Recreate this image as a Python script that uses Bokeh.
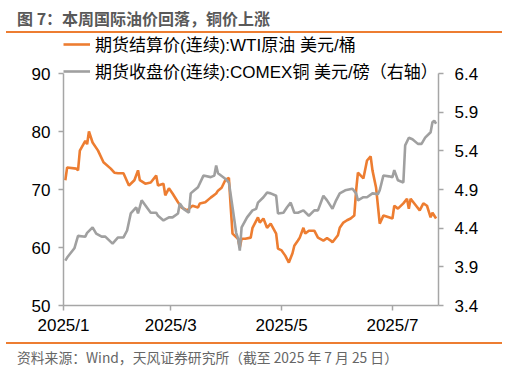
import pandas as pd
from bokeh.plotting import figure
from bokeh.models import (Range1d, LinearAxis, FixedTicker, CustomJSTickFormatter,
                          Legend, LegendItem, Div, PrintfTickFormatter)
from bokeh.layouts import column
from bokeh.embed import file_html
from bokeh.resources import INLINE

title_text = "图 7：本周国际油价回落，铜价上涨"
source_text = "资料来源：Wind，天风证券研究所（截至 2025 年 7 月 25 日）"
wti_label = "期货结算价(连续):WTI原油 美元/桶"
cu_label = "期货收盘价(连续):COMEX铜 美元/磅（右轴）"

wti_dates = ["2025-01-02", "2025-01-03", "2025-01-08", "2025-01-09", "2025-01-10", "2025-01-13",
             "2025-01-14", "2025-01-15", "2025-01-17", "2025-01-20", "2025-01-23", "2025-01-27",
             "2025-01-29", "2025-01-31", "2025-02-03", "2025-02-06", "2025-02-09", "2025-02-11",
             "2025-02-12", "2025-02-15", "2025-02-18", "2025-02-21", "2025-02-22", "2025-02-25",
             "2025-02-26", "2025-02-28", "2025-03-02", "2025-03-05", "2025-03-07", "2025-03-10",
             "2025-03-13", "2025-03-16", "2025-03-17", "2025-03-20", "2025-03-23", "2025-03-26",
             "2025-03-27", "2025-03-29", "2025-03-31", "2025-04-02", "2025-04-03", "2025-04-04",
             "2025-04-07", "2025-04-08", "2025-04-09", "2025-04-11", "2025-04-14", "2025-04-15",
             "2025-04-18", "2025-04-19", "2025-04-21", "2025-04-23", "2025-04-25", "2025-04-28",
             "2025-04-29", "2025-05-01", "2025-05-03", "2025-05-05", "2025-05-07", "2025-05-08",
             "2025-05-10", "2025-05-11", "2025-05-13", "2025-05-14", "2025-05-16", "2025-05-19",
             "2025-05-21", "2025-05-24", "2025-05-26", "2025-05-28", "2025-05-29", "2025-06-01",
             "2025-06-02", "2025-06-04", "2025-06-06", "2025-06-08", "2025-06-10", "2025-06-11",
             "2025-06-12", "2025-06-15", "2025-06-17", "2025-06-19", "2025-06-20", "2025-06-22",
             "2025-06-24", "2025-06-26", "2025-06-29", "2025-07-01", "2025-07-02", "2025-07-04",
             "2025-07-07", "2025-07-09", "2025-07-10", "2025-07-11", "2025-07-14", "2025-07-16",
             "2025-07-18", "2025-07-20", "2025-07-22", "2025-07-23", "2025-07-25"]
wti_values = [71.6, 73.8, 73.6, 73.3, 76.7, 78.4,
              77.8, 80.0, 78.1, 76.7, 74.7, 73.6,
              72.9, 72.8, 72.8, 70.7, 71.6, 73.3,
              71.6, 71.0, 71.2, 72.4, 70.7, 71.0,
              69.0, 70.2, 69.3, 67.8, 66.9, 66.4,
              67.2, 66.9, 67.6, 67.8, 68.6, 69.3,
              69.8, 70.3, 71.6, 72.0, 67.0, 62.4,
              61.5, 60.0, 61.5, 61.5, 61.7, 63.4,
              65.2, 64.3, 65.0, 63.4, 64.1, 62.4,
              59.8, 59.5, 58.6, 57.4, 59.0, 60.3,
              61.2, 61.7, 63.4, 62.4, 62.9, 62.9,
              61.7, 61.2, 61.6, 61.2, 60.9, 62.1,
              63.4, 64.3, 64.7, 65.0, 65.5, 69.8,
              72.9, 71.9, 75.0, 75.7, 73.3, 70.3,
              64.1, 65.5, 65.2, 65.0, 67.2, 66.7,
              67.6, 68.4, 66.7, 68.4, 67.2, 66.4,
              67.6, 67.2, 65.2, 66.0, 65.0]

cu_dates = ["2025-01-02", "2025-01-03", "2025-01-07", "2025-01-09", "2025-01-13", "2025-01-14",
            "2025-01-17", "2025-01-19", "2025-01-22", "2025-01-24", "2025-01-28", "2025-01-31",
            "2025-02-03", "2025-02-05", "2025-02-07", "2025-02-10", "2025-02-11", "2025-02-13",
            "2025-02-18", "2025-02-21", "2025-02-22", "2025-02-25", "2025-02-28", "2025-03-02",
            "2025-03-05", "2025-03-06", "2025-03-08", "2025-03-11", "2025-03-12", "2025-03-14",
            "2025-03-16", "2025-03-19", "2025-03-23", "2025-03-25", "2025-03-26", "2025-03-27",
            "2025-03-31", "2025-04-02", "2025-04-04", "2025-04-06", "2025-04-07", "2025-04-08",
            "2025-04-09", "2025-04-12", "2025-04-15", "2025-04-17", "2025-04-18", "2025-04-21",
            "2025-04-23", "2025-04-25", "2025-04-28", "2025-04-29", "2025-05-02", "2025-05-04",
            "2025-05-06", "2025-05-08", "2025-05-10", "2025-05-13", "2025-05-16", "2025-05-19",
            "2025-05-21", "2025-05-24", "2025-05-26", "2025-05-29", "2025-05-31", "2025-06-02",
            "2025-06-05", "2025-06-09", "2025-06-11", "2025-06-12", "2025-06-15", "2025-06-17",
            "2025-06-20", "2025-06-23", "2025-06-24", "2025-06-26", "2025-06-29", "2025-07-01",
            "2025-07-02", "2025-07-04", "2025-07-07", "2025-07-08", "2025-07-10", "2025-07-12",
            "2025-07-15", "2025-07-17", "2025-07-19", "2025-07-22", "2025-07-23", "2025-07-24",
            "2025-07-25"]
cu_values = [3.98, 4.02, 4.14, 4.30, 4.29, 4.34,
             4.41, 4.33, 4.29, 4.29, 4.20, 4.28,
             4.28, 4.37, 4.59, 4.67, 4.59, 4.76,
             4.60, 4.60, 4.56, 4.50, 4.54, 4.54,
             4.59, 4.72, 4.65, 4.60, 4.85, 4.89,
             4.93, 5.08, 5.06, 5.08, 5.21, 5.11,
             5.04, 4.99, 4.67, 4.34, 4.27, 4.11,
             4.41, 4.54, 4.63, 4.65, 4.73, 4.80,
             4.86, 4.85, 4.82, 4.59, 4.60, 4.67,
             4.73, 4.60, 4.60, 4.63, 4.56, 4.63,
             4.63, 4.82, 4.76, 4.65, 4.76, 4.85,
             4.89, 4.91, 4.85, 4.76, 4.80, 4.80,
             4.85, 4.84, 4.89, 5.08, 5.07, 5.06,
             5.15, 5.02, 4.99, 5.47, 5.57, 5.55,
             5.49, 5.49, 5.57, 5.64, 5.77, 5.79,
             5.75]

left_ticks = [50, 60, 70, 80, 90]
right_ticks = [3.4, 3.9, 4.4, 4.9, 5.4, 5.9, 6.4]
x_tick_dates = ["2025-01-01", "2025-03-01", "2025-05-01", "2025-07-01"]
x_start, x_end = "2025-01-01", "2025-07-26 08:00"


def ms(s):
    return pd.Timestamp(s).value // 10**6


ORANGE = "#ED7D31"
GRAY = "#A0A0A0"
AXIS = "#A6A6A6"
LATIN_FONT = "Liberation Sans"
CJK_FONT = "Noto Sans CJK SC"

# geometry: frame reaches the top of the figure so the legend (drawn in the
# frame) is not clipped; the axes are bounded to the tick range.
FIG_W, FIG_H = 508, 309
BORDER_L, BORDER_R, BORDER_B = 63, 70, 37
AX_TOP_GAP = 40                      # px from figure top down to the top tick
frame_h = FIG_H - BORDER_B
axes_h = frame_h - AX_TOP_GAP
l_per_px = (left_ticks[-1] - left_ticks[0]) / axes_h
r_per_px = (right_ticks[-1] - right_ticks[0]) / axes_h

x0, x1 = ms(x_start), ms(x_end)
p = figure(width=FIG_W, height=FIG_H, x_axis_type="datetime",
           output_backend="svg", toolbar_location=None,
           x_range=Range1d(x0, x1),
           y_range=Range1d(left_ticks[0], left_ticks[-1] + AX_TOP_GAP * l_per_px),
           min_border_left=BORDER_L, min_border_right=BORDER_R,
           min_border_top=0, min_border_bottom=BORDER_B)
p.extra_y_ranges = {"cu": Range1d(right_ticks[0], right_ticks[-1] + AX_TOP_GAP * r_per_px)}
p.outline_line_color = None
p.xgrid.visible = False
p.ygrid.visible = False

r1 = p.line(pd.to_datetime(wti_dates), wti_values, line_color=ORANGE, line_width=2.6)
r2 = p.line(pd.to_datetime(cu_dates), cu_values, line_color=GRAY, line_width=2.6,
            y_range_name="cu")

right_axis = LinearAxis(y_range_name="cu")
p.add_layout(right_axis, "right")

xaxis = p.xaxis[0]
yaxis = p.yaxis[0]
xaxis.ticker = FixedTicker(ticks=[ms(d) for d in x_tick_dates])
xaxis.formatter = CustomJSTickFormatter(
    code="const d = new Date(tick); return d.getUTCFullYear() + '/' + (d.getUTCMonth() + 1);")
yaxis.ticker = FixedTicker(ticks=left_ticks)
yaxis.bounds = (left_ticks[0], left_ticks[-1])
right_axis.ticker = FixedTicker(ticks=right_ticks)
right_axis.formatter = PrintfTickFormatter(format="%.1f")
right_axis.bounds = (right_ticks[0], right_ticks[-1])

for ax in [xaxis, yaxis, right_axis]:
    ax.axis_line_color = AXIS
    ax.axis_line_width = 1.5
    ax.major_tick_line_color = AXIS
    ax.major_tick_line_width = 1.5
    ax.major_tick_out = 5
    ax.major_tick_in = 0
    ax.minor_tick_out = 0
    ax.minor_tick_in = 0
    ax.major_label_text_font = LATIN_FONT
    ax.major_label_text_font_size = "17px"
    ax.major_label_text_color = "#000000"
    ax.major_label_standoff = 8
xaxis.major_label_standoff = 5
right_axis.major_label_standoff = 11

legend = Legend(items=[LegendItem(label=wti_label, renderers=[r1]),
                       LegendItem(label=cu_label, renderers=[r2])],
                location=(0, 222), glyph_width=27, glyph_height=20,
                label_height=20, label_standoff=5, spacing=2, padding=0, margin=0,
                border_line_alpha=0, background_fill_alpha=0,
                label_text_font=LATIN_FONT + ", " + CJK_FONT,
                label_text_font_size="17px", label_text_color="#000000")
p.add_layout(legend, "center")

title_div = Div(
    text=('<div style="margin-left:6px;width:496px;height:33px;box-sizing:border-box;'
          'border-bottom:2px solid %s;padding-left:11px;padding-top:8px;'
          "font-family:'%s';font-size:16px;font-weight:bold;color:#595959;"
          'line-height:20px;white-space:nowrap;">%s</div>') % (ORANGE, CJK_FONT, title_text),
    width=508, height=33, margin=0)
src_div = Div(
    text=('<div style="margin-left:6px;width:496px;height:30px;box-sizing:border-box;'
          'border-top:2px solid %s;padding-left:11px;padding-top:5px;'
          "font-family:'%s';font-size:13.8px;color:#666666;"
          'line-height:16px;white-space:nowrap;">%s</div>') % (ORANGE, CJK_FONT, source_text),
    width=508, height=30, margin=0)

layout = column(title_div, p, src_div, spacing=0)

open("out.html", "w").write(file_html(layout, INLINE))
